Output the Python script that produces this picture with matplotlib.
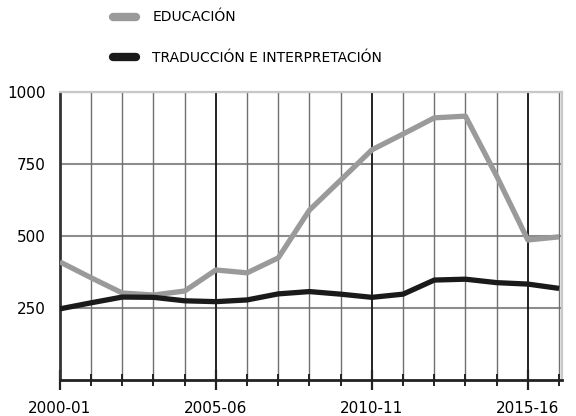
import matplotlib.pyplot as plt
from matplotlib.lines import Line2D

# Years (start of academic year) and tick labels
years = list(range(2000, 2017))
tick_years = [2000, 2005, 2010, 2015]
tick_labels = ["2000-01", "2005-06", "2010-11", "2015-16"]

# Values
educacion = [410, 355, 302, 295, 309, 382, 372, 424, 590, 694, 799, 854, 910, 916, 708, 486, 497]
traduccion = [247, 268, 288, 287, 275, 272, 278, 299, 307, 298, 287, 298, 347, 350, 338, 333, 318]

labels = ["EDUCACIÓN", "TRADUCCIÓN E INTERPRETACIÓN"]
colors = ["#9a9a9a", "#1a1a1a"]

fig = plt.figure(figsize=(5.76, 4.16), dpi=100)
ax = fig.add_axes([0.104, 0.0865, 0.872, 0.6925])

# grid
for y in [250, 500, 750, 1000]:
    ax.axhline(y, color="#8c8c8c", lw=1.5, zorder=1)
for yr in years:
    c = "#222222" if yr in tick_years else "#707070"
    ax.axvline(yr, color=c, lw=1.4 if yr in tick_years else 1.0, zorder=1)

ax.plot(years, educacion, color=colors[0], lw=3.8, solid_capstyle="butt", zorder=3)
ax.plot(years, traduccion, color=colors[1], lw=3.8, solid_capstyle="butt", zorder=4)

ax.set_xlim(2000, 2016.1)
ax.set_ylim(0, 1000)

ax.set_xticks(tick_years)
ax.set_xticklabels(tick_labels)
ax.set_xticks(years, minor=True)
ax.set_yticks([250, 500, 750, 1000])
ax.tick_params(axis="x", which="major", direction="inout", length=14, width=1.6,
               color="#222222", labelsize=11, pad=8)
ax.tick_params(axis="x", which="minor", direction="inout", length=8, width=1.4, color="#222222")
ax.tick_params(axis="y", length=0, labelsize=11, pad=10)

for s in ["top", "right"]:
    ax.spines[s].set_color("#c8c8c8")
    ax.spines[s].set_linewidth(1.6)
ax.spines["left"].set_color("#333333")
ax.spines["left"].set_linewidth(2)
ax.spines["bottom"].set_color("#222222")
ax.spines["bottom"].set_linewidth(2)

handles = [Line2D([], [], color=c, lw=6, solid_capstyle="round") for c in colors]
fig.legend(handles, labels, loc="upper left", bbox_to_anchor=(0.175, 1.005),
           frameon=False, fontsize=10, handlelength=1.6, handletextpad=1.2,
           labelspacing=1.9)

fig.savefig("out.png", dpi=100)
